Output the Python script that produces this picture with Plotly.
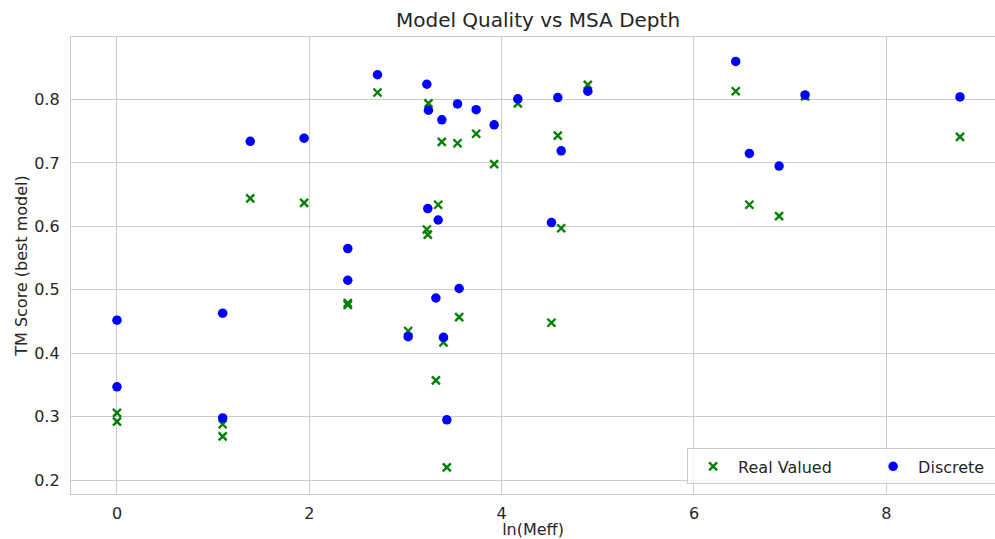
import plotly.graph_objects as go

# ln(Meff) per target, shared by both series
ln_meff = [0.0, 0.0, 1.099, 1.099, 1.386, 1.946, 2.40, 2.40, 2.709, 3.028,
           3.222, 3.239, 3.232, 3.316, 3.340, 3.378, 3.395, 3.430, 3.541, 3.558,
           3.735, 3.922, 4.168, 4.518, 4.584, 4.619, 4.896, 6.434, 6.576, 6.885,
           7.155, 8.766]
tm_discrete = [0.452, 0.347, 0.463, 0.298, 0.734, 0.739, 0.565, 0.515, 0.839, 0.426,
               0.824, 0.783, 0.628, 0.487, 0.610, 0.768, 0.425, 0.295, 0.793, 0.502,
               0.784, 0.760, 0.801, 0.606, 0.803, 0.719, 0.813, 0.860, 0.715, 0.695,
               0.807, 0.804]
tm_real = [0.306, 0.292, 0.288, 0.269, 0.644, 0.637, 0.479, 0.476, 0.811, 0.435,
           0.595, 0.794, 0.587, 0.357, 0.634, 0.733, 0.417, 0.220, 0.731, 0.457,
           0.746, 0.698, 0.794, 0.448, 0.743, 0.597, 0.823, 0.813, 0.634, 0.616,
           0.805, 0.741]
x_ticks = [0, 2, 4, 6, 8]
y_ticks = [0.2, 0.3, 0.4, 0.5, 0.6, 0.7, 0.8]

FONT = "DejaVu Sans"
TXT = "#262626"
GRID = "#cccccc"

fig = go.Figure()
fig.add_trace(go.Scatter(
    x=ln_meff, y=tm_real, mode="markers", name="Real Valued",
    marker=dict(symbol="x-thin", size=8, color="#008000",
                line=dict(color="#008000", width=2.4)),
))
fig.add_trace(go.Scatter(
    x=ln_meff, y=tm_discrete, mode="markers", name="Discrete",
    marker=dict(symbol="circle", size=9.5, color="#0000ff", line=dict(width=0)),
))

fig.update_layout(
    width=995, height=539,
    margin=dict(l=71, r=0, t=37, b=45, autoexpand=False),
    paper_bgcolor="white", plot_bgcolor="white",
    font=dict(family=FONT, size=16, color=TXT),
    title=dict(text="Model Quality vs MSA Depth", x=538/995, xanchor="center",
               y=1 - 20/539, yanchor="middle", font=dict(size=20, color=TXT)),
    showlegend=True,
    legend=dict(orientation="h", x=0.6668, xanchor="left", y=0.021, yanchor="bottom",
                bgcolor="rgba(255,255,255,0.8)", bordercolor=GRID, borderwidth=1,
                font=dict(size=16, color=TXT), entrywidth=125, itemwidth=40),
)
fig.update_xaxes(
    range=[-0.478, 9.13], tickvals=x_ticks, ticktext=[str(t) for t in x_ticks],
    showgrid=True, gridcolor=GRID, gridwidth=1.3, zeroline=False,
    showline=True, linecolor=GRID, linewidth=1.3, mirror=True,
    ticks="", ticklabelstandoff=5,
    title=dict(text="ln(Meff)", font=dict(size=16, color=TXT), standoff=4),
)
fig.update_yaxes(
    range=[0.178, 0.8985], tickvals=y_ticks, ticktext=[f"{t:.1f}" for t in y_ticks],
    showgrid=True, gridcolor=GRID, gridwidth=1.3, zeroline=False,
    showline=True, linecolor=GRID, linewidth=1.3, mirror=True,
    ticks="", ticklabelstandoff=7,
    title=dict(text="TM Score (best model)", font=dict(size=16, color=TXT), standoff=2),
)

fig.write_html("out.html",
               config={"displayModeBar": False},
               post_script="document.body.style.margin='0px';"
                           "document.body.style.overflow='hidden';")
